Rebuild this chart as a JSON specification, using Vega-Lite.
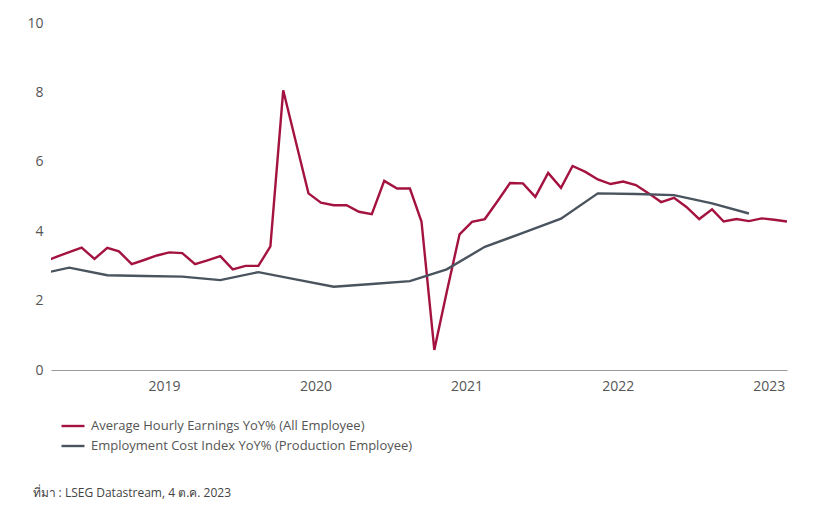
{
  "$schema": "https://vega.github.io/schema/vega-lite/v6.json",
  "width": 736,
  "height": 347,
  "autosize": {"type": "none"},
  "padding": {"left": 51, "top": 23, "right": 33, "bottom": 145},
  "background": "white",
  "config": {"view": {"stroke": null}, "font": "Open Sans"},
  "data": {
    "values": [
      {"date": "2018-09-01", "series": "Average Hourly Earnings YoY% (All Employee)", "value": 3.12},
      {"date": "2018-10-01", "series": "Average Hourly Earnings YoY% (All Employee)", "value": 3.26},
      {"date": "2018-11-01", "series": "Average Hourly Earnings YoY% (All Employee)", "value": 3.40},
      {"date": "2018-12-01", "series": "Average Hourly Earnings YoY% (All Employee)", "value": 3.53},
      {"date": "2019-01-01", "series": "Average Hourly Earnings YoY% (All Employee)", "value": 3.20},
      {"date": "2019-02-01", "series": "Average Hourly Earnings YoY% (All Employee)", "value": 3.52},
      {"date": "2019-03-01", "series": "Average Hourly Earnings YoY% (All Employee)", "value": 3.42},
      {"date": "2019-04-01", "series": "Average Hourly Earnings YoY% (All Employee)", "value": 3.05},
      {"date": "2019-05-01", "series": "Average Hourly Earnings YoY% (All Employee)", "value": 3.17},
      {"date": "2019-06-01", "series": "Average Hourly Earnings YoY% (All Employee)", "value": 3.30},
      {"date": "2019-07-01", "series": "Average Hourly Earnings YoY% (All Employee)", "value": 3.39},
      {"date": "2019-08-01", "series": "Average Hourly Earnings YoY% (All Employee)", "value": 3.37},
      {"date": "2019-09-01", "series": "Average Hourly Earnings YoY% (All Employee)", "value": 3.05},
      {"date": "2019-10-01", "series": "Average Hourly Earnings YoY% (All Employee)", "value": 3.16},
      {"date": "2019-11-01", "series": "Average Hourly Earnings YoY% (All Employee)", "value": 3.28},
      {"date": "2019-12-01", "series": "Average Hourly Earnings YoY% (All Employee)", "value": 2.90},
      {"date": "2020-01-01", "series": "Average Hourly Earnings YoY% (All Employee)", "value": 3.00},
      {"date": "2020-02-01", "series": "Average Hourly Earnings YoY% (All Employee)", "value": 3.00},
      {"date": "2020-03-01", "series": "Average Hourly Earnings YoY% (All Employee)", "value": 3.56},
      {"date": "2020-04-01", "series": "Average Hourly Earnings YoY% (All Employee)", "value": 8.06},
      {"date": "2020-05-01", "series": "Average Hourly Earnings YoY% (All Employee)", "value": 6.60},
      {"date": "2020-06-01", "series": "Average Hourly Earnings YoY% (All Employee)", "value": 5.09},
      {"date": "2020-07-01", "series": "Average Hourly Earnings YoY% (All Employee)", "value": 4.82},
      {"date": "2020-08-01", "series": "Average Hourly Earnings YoY% (All Employee)", "value": 4.75},
      {"date": "2020-09-01", "series": "Average Hourly Earnings YoY% (All Employee)", "value": 4.75},
      {"date": "2020-10-01", "series": "Average Hourly Earnings YoY% (All Employee)", "value": 4.56},
      {"date": "2020-11-01", "series": "Average Hourly Earnings YoY% (All Employee)", "value": 4.49},
      {"date": "2020-12-01", "series": "Average Hourly Earnings YoY% (All Employee)", "value": 5.45},
      {"date": "2021-01-01", "series": "Average Hourly Earnings YoY% (All Employee)", "value": 5.23},
      {"date": "2021-02-01", "series": "Average Hourly Earnings YoY% (All Employee)", "value": 5.23},
      {"date": "2021-03-01", "series": "Average Hourly Earnings YoY% (All Employee)", "value": 4.28},
      {"date": "2021-04-01", "series": "Average Hourly Earnings YoY% (All Employee)", "value": 0.58},
      {"date": "2021-05-01", "series": "Average Hourly Earnings YoY% (All Employee)", "value": 2.25},
      {"date": "2021-06-01", "series": "Average Hourly Earnings YoY% (All Employee)", "value": 3.91},
      {"date": "2021-07-01", "series": "Average Hourly Earnings YoY% (All Employee)", "value": 4.27},
      {"date": "2021-08-01", "series": "Average Hourly Earnings YoY% (All Employee)", "value": 4.35},
      {"date": "2021-09-01", "series": "Average Hourly Earnings YoY% (All Employee)", "value": 4.87},
      {"date": "2021-10-01", "series": "Average Hourly Earnings YoY% (All Employee)", "value": 5.39},
      {"date": "2021-11-01", "series": "Average Hourly Earnings YoY% (All Employee)", "value": 5.38},
      {"date": "2021-12-01", "series": "Average Hourly Earnings YoY% (All Employee)", "value": 4.99},
      {"date": "2022-01-01", "series": "Average Hourly Earnings YoY% (All Employee)", "value": 5.68},
      {"date": "2022-02-01", "series": "Average Hourly Earnings YoY% (All Employee)", "value": 5.25},
      {"date": "2022-03-01", "series": "Average Hourly Earnings YoY% (All Employee)", "value": 5.88},
      {"date": "2022-04-01", "series": "Average Hourly Earnings YoY% (All Employee)", "value": 5.71},
      {"date": "2022-05-01", "series": "Average Hourly Earnings YoY% (All Employee)", "value": 5.49},
      {"date": "2022-06-01", "series": "Average Hourly Earnings YoY% (All Employee)", "value": 5.36},
      {"date": "2022-07-01", "series": "Average Hourly Earnings YoY% (All Employee)", "value": 5.43},
      {"date": "2022-08-01", "series": "Average Hourly Earnings YoY% (All Employee)", "value": 5.33},
      {"date": "2022-09-01", "series": "Average Hourly Earnings YoY% (All Employee)", "value": 5.09},
      {"date": "2022-10-01", "series": "Average Hourly Earnings YoY% (All Employee)", "value": 4.84},
      {"date": "2022-11-01", "series": "Average Hourly Earnings YoY% (All Employee)", "value": 4.96},
      {"date": "2022-12-01", "series": "Average Hourly Earnings YoY% (All Employee)", "value": 4.70},
      {"date": "2023-01-01", "series": "Average Hourly Earnings YoY% (All Employee)", "value": 4.35},
      {"date": "2023-02-01", "series": "Average Hourly Earnings YoY% (All Employee)", "value": 4.63},
      {"date": "2023-03-01", "series": "Average Hourly Earnings YoY% (All Employee)", "value": 4.28},
      {"date": "2023-04-01", "series": "Average Hourly Earnings YoY% (All Employee)", "value": 4.35},
      {"date": "2023-05-01", "series": "Average Hourly Earnings YoY% (All Employee)", "value": 4.29},
      {"date": "2023-06-01", "series": "Average Hourly Earnings YoY% (All Employee)", "value": 4.37},
      {"date": "2023-07-01", "series": "Average Hourly Earnings YoY% (All Employee)", "value": 4.33},
      {"date": "2023-08-01", "series": "Average Hourly Earnings YoY% (All Employee)", "value": 4.28},
      {"date": "2018-08-01", "series": "Employment Cost Index YoY% (Production Employee)", "value": 2.71},
      {"date": "2018-11-01", "series": "Employment Cost Index YoY% (Production Employee)", "value": 2.95},
      {"date": "2019-02-01", "series": "Employment Cost Index YoY% (Production Employee)", "value": 2.73},
      {"date": "2019-05-01", "series": "Employment Cost Index YoY% (Production Employee)", "value": 2.71},
      {"date": "2019-08-01", "series": "Employment Cost Index YoY% (Production Employee)", "value": 2.69},
      {"date": "2019-11-01", "series": "Employment Cost Index YoY% (Production Employee)", "value": 2.59},
      {"date": "2020-02-01", "series": "Employment Cost Index YoY% (Production Employee)", "value": 2.82},
      {"date": "2020-05-01", "series": "Employment Cost Index YoY% (Production Employee)", "value": 2.61},
      {"date": "2020-08-01", "series": "Employment Cost Index YoY% (Production Employee)", "value": 2.40},
      {"date": "2020-11-01", "series": "Employment Cost Index YoY% (Production Employee)", "value": 2.48},
      {"date": "2021-02-01", "series": "Employment Cost Index YoY% (Production Employee)", "value": 2.56},
      {"date": "2021-05-01", "series": "Employment Cost Index YoY% (Production Employee)", "value": 2.90},
      {"date": "2021-08-01", "series": "Employment Cost Index YoY% (Production Employee)", "value": 3.55},
      {"date": "2021-11-01", "series": "Employment Cost Index YoY% (Production Employee)", "value": 3.95},
      {"date": "2022-02-01", "series": "Employment Cost Index YoY% (Production Employee)", "value": 4.36},
      {"date": "2022-05-01", "series": "Employment Cost Index YoY% (Production Employee)", "value": 5.09},
      {"date": "2022-08-01", "series": "Employment Cost Index YoY% (Production Employee)", "value": 5.07},
      {"date": "2022-11-01", "series": "Employment Cost Index YoY% (Production Employee)", "value": 5.04},
      {"date": "2023-02-01", "series": "Employment Cost Index YoY% (Production Employee)", "value": 4.80},
      {"date": "2023-05-01", "series": "Employment Cost Index YoY% (Production Employee)", "value": 4.51}
    ]
  },
  "mark": {"type": "line", "strokeWidth": 2.4, "clip": true},
  "encoding": {
    "x": {
      "field": "date",
      "type": "temporal",
      "scale": {
        "type": "utc",
        "domain": [
          {"year": 2018, "month": 9, "date": 18, "utc": true},
          {"year": 2023, "month": 8, "date": 1, "utc": true}
        ]
      },
      "axis": {
        "values": [
          {"year": 2019, "month": 6, "date": 18, "utc": true},
          {"year": 2020, "month": 6, "date": 18, "utc": true},
          {"year": 2021, "month": 6, "date": 18, "utc": true},
          {"year": 2022, "month": 6, "date": 18, "utc": true},
          {"year": 2023, "month": 6, "date": 18, "utc": true}
        ],
        "labelExpr": "utcFormat(datum.value, '%Y')",
        "ticks": false,
        "grid": false,
        "domainColor": "#9b9b9b",
        "domainWidth": 1,
        "labelColor": "#555555",
        "labelFontSize": 14,
        "labelPadding": 9,
        "labelFlush": false,
        "labelOverlap": false,
        "labelBound": false,
        "title": "ที่มา : LSEG Datastream, 4 ต.ค. 2023",
        "titleX": -19,
        "titleY": 122,
        "titleAlign": "left",
        "titleAnchor": "start",
        "titleBaseline": "middle",
        "titleFontSize": 12,
        "titleFontWeight": "normal",
        "titleColor": "#444444"
      }
    },
    "y": {
      "field": "value",
      "type": "quantitative",
      "scale": {"domain": [0, 10], "nice": false},
      "axis": {
        "values": [0, 2, 4, 6, 8, 10],
        "domain": false,
        "ticks": false,
        "grid": false,
        "labelColor": "#555555",
        "labelFontSize": 14,
        "labelPadding": 8,
        "title": null
      }
    },
    "color": {
      "field": "series",
      "type": "nominal",
      "scale": {
        "domain": ["Average Hourly Earnings YoY% (All Employee)", "Employment Cost Index YoY% (Production Employee)"],
        "range": ["#A4123F", "#4A545E"]
      },
      "legend": {
        "orient": "none",
        "legendX": 9,
        "legendY": 390,
        "title": null,
        "symbolType": "stroke",
        "symbolStrokeWidth": 2.4,
        "symbolSize": 529,
        "labelFontSize": 13,
        "labelColor": "#555555",
        "labelOffset": 5,
        "labelLimit": 0,
        "rowPadding": 0
      }
    }
  }
}
